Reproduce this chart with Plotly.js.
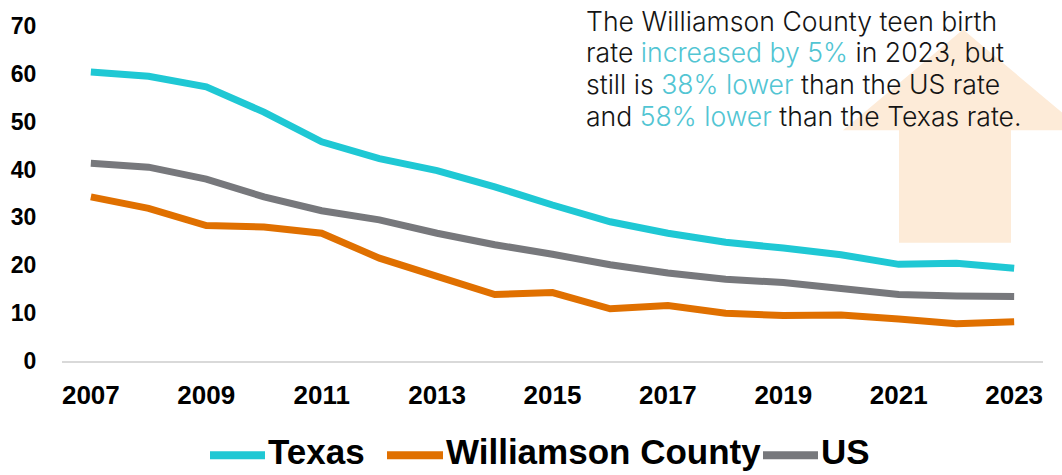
<!DOCTYPE html>
<html>
<head>
<meta charset="utf-8">
<script src="https://cdn.plot.ly/plotly-3.0.1.min.js"></script>
<style>
  html, body { margin: 0; padding: 0; background: #ffffff; }
  #chart { width: 1062px; height: 475px; }
</style>
</head>
<body>
<div id="chart"></div>
<script>
// ---- data ----
const years = [2007, 2008, 2009, 2010, 2011, 2012, 2013, 2014, 2015, 2016, 2017, 2018, 2019, 2020, 2021, 2022, 2023];
const texasRate = [60.4, 59.5, 57.3, 52.0, 45.8, 42.3, 39.8, 36.4, 32.6, 29.1, 26.7, 24.8, 23.6, 22.2, 20.2, 20.4, 19.4];
const williamsonRate = [34.3, 31.9, 28.3, 28.0, 26.7, 21.5, 17.7, 13.9, 14.3, 10.9, 11.6, 10.0, 9.5, 9.6, 8.8, 7.8, 8.2];
const usRate = [41.3, 40.5, 38.0, 34.3, 31.4, 29.5, 26.7, 24.3, 22.3, 20.1, 18.4, 17.1, 16.4, 15.2, 13.9, 13.6, 13.5];
const seriesNames = ["Texas", "Williamson County", "US"];
const xTickVals = [2007, 2009, 2011, 2013, 2015, 2017, 2019, 2021, 2023];
const yTickVals = [0, 10, 20, 30, 40, 50, 60, 70];

// ---- styling ----
const colors = { texas: "#1FC8D4", wil: "#E07000", us: "#77787C" };
const W = 1062, H = 475;
const M = { l: 62, r: 19, t: 25.5, b: 113.5 };
const PW = W - M.l - M.r, PH = H - M.t - M.b;
const px = x => (x - M.l) / PW;            // pixel -> paper x
const py = y => (H - M.b - y) / PH;        // pixel -> paper y

const traces = [
  { x: years, y: texasRate, name: seriesNames[0], mode: "lines", line: { color: colors.texas, width: 7 } },
  { x: years, y: williamsonRate, name: seriesNames[1], mode: "lines", line: { color: colors.wil, width: 7 } },
  { x: years, y: usRate, name: seriesNames[2], mode: "lines", line: { color: colors.us, width: 7 } }
];

// arrow (decorative) in pixel space
const arrowPts = [[963, 29], [1083, 130], [1011, 130], [1011, 243], [899, 243], [899, 130], [843, 130]];
const arrowPath = "M " + arrowPts.map(p => px(p[0]).toFixed(4) + "," + py(p[1]).toFixed(4)).join(" L ") + " Z";

const hi = t => '<span style="color:#52C5D3">' + t + '</span>';
const noteLines = [
  "The Williamson County teen birth",
  "rate " + hi("increased by 5%") + " in 2023, but",
  "still is " + hi("38% lower") + " than the US rate",
  "and " + hi("58% lower") + " than the Texas rate."
];

// manual legend
const legY = 455;
const legItems = [
  { name: seriesNames[0], color: colors.texas, x0: 210, x1: 265, tx: 267 },
  { name: seriesNames[1], color: colors.wil, x0: 387, x1: 443, tx: 445 },
  { name: seriesNames[2], color: colors.us, x0: 763, x1: 818, tx: 820 }
];

const shapes = [
  { type: "path", xref: "paper", yref: "paper", path: arrowPath, fillcolor: "#FDEBD8", line: { width: 0 }, layer: "below" }
];
const annotations = [];
noteLines.forEach((t, i) => {
  annotations.push({ xref: "paper", yref: "paper", x: px(585), y: py(20 + 32 * i), xanchor: "left", yanchor: "middle",
    align: "left", showarrow: false, text: t, borderpad: 0,
    font: { family: "Inter", size: 26.6, weight: 300, color: "#141414" } });
});
legItems.forEach(it => {
  shapes.push({ type: "line", xref: "paper", yref: "paper", x0: px(it.x0), x1: px(it.x1), y0: py(legY + 1), y1: py(legY + 1),
    line: { color: it.color, width: 8 } });
  annotations.push({ xref: "paper", yref: "paper", x: px(it.tx), y: py(legY - 2.5), xanchor: "left", yanchor: "middle",
    showarrow: false, text: it.name, borderpad: 0,
    font: { family: "Liberation Sans", size: 35, weight: 700, color: "#000000" } });
});

const layout = {
  width: W, height: H,
  margin: M,
  paper_bgcolor: "#ffffff", plot_bgcolor: "#ffffff",
  showlegend: false,
  xaxis: {
    range: [2006.5, 2023.5], tickvals: xTickVals, ticktext: xTickVals.map(String),
    showgrid: false, zeroline: false, showline: true, linecolor: "#D9D9D9", linewidth: 2,
    ticks: "outside", ticklen: 10, tickcolor: "rgba(0,0,0,0)",
    tickfont: { family: "Liberation Sans", size: 26, weight: 700, color: "#000000" }
  },
  yaxis: {
    range: [0, 70], tickvals: yTickVals, ticktext: yTickVals.map(String),
    showgrid: false, zeroline: false, showline: false,
    ticks: "outside", ticklen: 20, tickcolor: "rgba(0,0,0,0)",
    tickfont: { family: "Liberation Sans", size: 23, weight: 700, color: "#000000" }
  },
  shapes: shapes,
  annotations: annotations
};

Plotly.newPlot("chart", traces, layout, { displayModeBar: false, staticPlot: true });
</script>
</body>
</html>
